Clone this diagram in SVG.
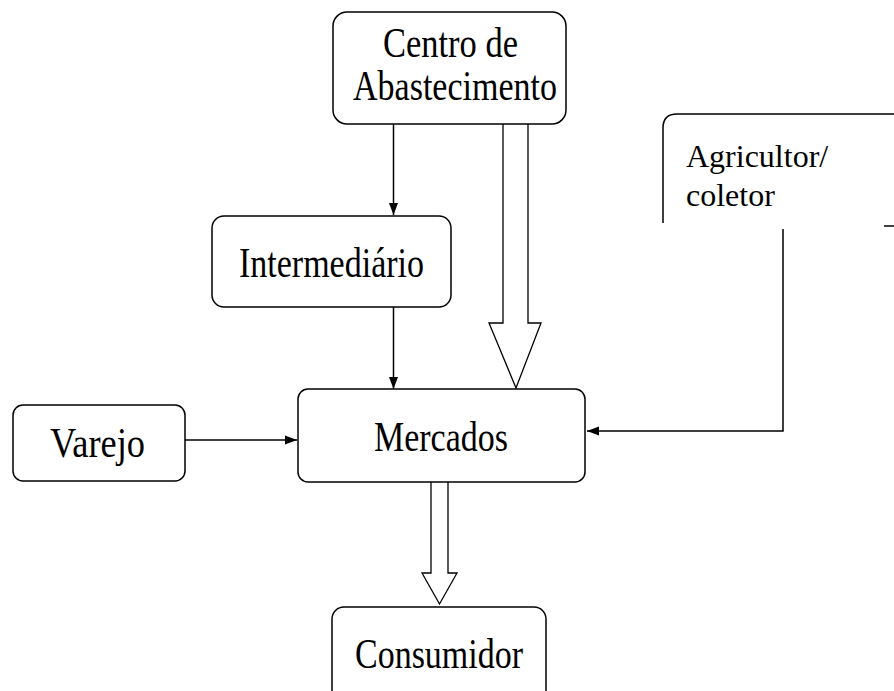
<svg xmlns="http://www.w3.org/2000/svg" width="894" height="691" viewBox="0 0 894 691">
<style>
.box{fill:#fff;stroke:#000;stroke-width:1.5}
.ln{fill:none;stroke:#000;stroke-width:1.5}
.hollow{fill:#fff;stroke:#000;stroke-width:1.3;stroke-linejoin:miter}
.t{font-family:"Liberation Serif","Times New Roman",serif;font-size:43px;fill:#000}
.s{font-family:"Liberation Serif","Times New Roman",serif;font-size:32px;fill:#000}
</style>
<defs>
<marker id="ah" viewBox="0 0 12 10" refX="12" refY="5" markerWidth="12" markerHeight="10" markerUnits="userSpaceOnUse" orient="auto">
<path d="M0,0.5 L12,5 L0,9.5 Z" fill="#000"/>
</marker>
</defs>
<rect width="894" height="691" fill="#fff"/>
<g id="connectors">
<line class="ln" x1="393.5" y1="124" x2="393.5" y2="215" marker-end="url(#ah)"/>
<line class="ln" x1="393.5" y1="307" x2="393.5" y2="389" marker-end="url(#ah)"/>
<line class="ln" x1="185" y1="440" x2="297" y2="440" marker-end="url(#ah)"/>
<polyline class="ln" points="783,229 783,431 587,431" marker-end="url(#ah)"/>
<path class="hollow" d="M503,124 L503,323 L489,323 L516,388 L541,323 L528,323 L528,124"/>
<path class="hollow" d="M431,482 L431,573 L422,573 L439.5,604 L457,573 L448,573 L448,482"/>
</g>
<g id="centro">
<rect class="box" x="333" y="12" width="233" height="112" rx="14"/>
<text class="t" x="383" y="57" textLength="135" lengthAdjust="spacingAndGlyphs">Centro de</text>
<text class="t" x="353" y="100" textLength="204" lengthAdjust="spacingAndGlyphs">Abastecimento</text>
</g>
<g id="agricultor">
<path class="ln" d="M663,223 L663,128 Q663,114 677,114 L894,114"/>
<line class="ln" x1="884" y1="226" x2="894" y2="226"/>
<text class="s" x="686" y="167">Agricultor/</text>
<text class="s" x="686" y="206">coletor</text>
</g>
<g id="intermediario">
<rect class="box" x="212" y="216" width="239" height="91" rx="12"/>
<text class="t" x="239" y="277" textLength="185" lengthAdjust="spacingAndGlyphs">Intermediário</text>
</g>
<g id="varejo">
<rect class="box" x="13" y="405" width="172" height="76" rx="10"/>
<text class="t" x="50" y="457" textLength="95" lengthAdjust="spacingAndGlyphs">Varejo</text>
</g>
<g id="mercados">
<rect class="box" x="298" y="389" width="287" height="93" rx="10"/>
<text class="t" x="374" y="451" textLength="134" lengthAdjust="spacingAndGlyphs">Mercados</text>
</g>
<g id="consumidor">
<rect class="box" x="332" y="607" width="214" height="110" rx="12"/>
<text class="t" x="355" y="668" textLength="168" lengthAdjust="spacingAndGlyphs">Consumidor</text>
</g>
</svg>
